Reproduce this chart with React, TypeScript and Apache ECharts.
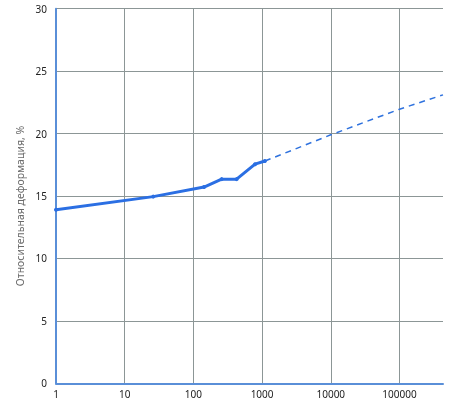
import React, { useEffect, useRef } from "react";
import * as echarts from "echarts";

const xMin = 1;
const xMax = 430000;
const yTicks = { min: 0, max: 30, interval: 5 };
const measuredX = [1, 26, 143, 258, 426, 790, 1100];
const measuredY = [13.9, 14.95, 15.72, 16.35, 16.35, 17.55, 17.8];
const forecastX = [1100, 10000, 100000, 430000];
const forecastY = [17.8, 19.9, 21.95, 23.1];
const yAxisTitle = "Относительная деформация, %";

export default function App() {
  const ref = useRef<HTMLDivElement>(null);
  useEffect(() => {
    if (!ref.current) return;
    const chart = echarts.init(ref.current, null, { renderer: "svg" });
    const font = "'Noto Sans', sans-serif";
    chart.setOption({
      animation: false,
      grid: { left: 56, right: 27, top: 8.7, bottom: 16.7, containLabel: false },
      xAxis: {
        type: "log",
        logBase: 10,
        min: xMin,
        max: xMax,
        axisLine: { show: true, lineStyle: { color: "#5a8fd8", width: 2 } },
        axisTick: { show: false },
        axisLabel: {
          color: "#222",
          fontSize: 10,
          lineHeight: 8,
          fontFamily: font,
          margin: 6.3,
          showMaxLabel: false,
          formatter: (v: number) => String(Math.round(v)),
        },
        splitLine: { show: true, showMaxLine: false, lineStyle: { color: "#8c9696", width: 1 } },
        minorTick: { show: false },
      },
      yAxis: {
        type: "value",
        min: yTicks.min,
        max: yTicks.max,
        interval: yTicks.interval,
        axisLine: { show: true, lineStyle: { color: "#5a8fd8", width: 2 } },
        axisTick: { show: false },
        axisLabel: { color: "#222", fontSize: 10, lineHeight: 10, fontFamily: font, margin: 9 },
        splitLine: { show: true, lineStyle: { color: "#8c9696", width: 1 } },
      },
      graphic: [
        {
          type: "text",
          x: 20,
          y: 206,
          rotation: Math.PI / 2,
          style: {
            text: yAxisTitle,
            fill: "#6b6b6b",
            fontSize: 10.5,
            fontFamily: font,
            textAlign: "center",
            textVerticalAlign: "middle",
          },
        },
      ],
      series: [
        {
          type: "line",
          data: forecastX.map((x, i) => [x, forecastY[i]]),
          symbol: "none",
          lineStyle: { color: "#2f72de", width: 1.5, type: [6, 5] },
          z: 2,
        },
        {
          type: "line",
          data: measuredX.map((x, i) => [x, measuredY[i]]),
          symbol: "circle",
          symbolSize: 4,
          itemStyle: { color: "#2b6fe3" },
          lineStyle: { color: "#2b6fe3", width: 3 },
          z: 3,
        },
      ],
    });
    return () => chart.dispose();
  }, []);
  return (
    <div
      ref={ref}
      style={{ position: "fixed", left: 0, top: 0, width: 470, height: 400 }}
    />
  );
}
